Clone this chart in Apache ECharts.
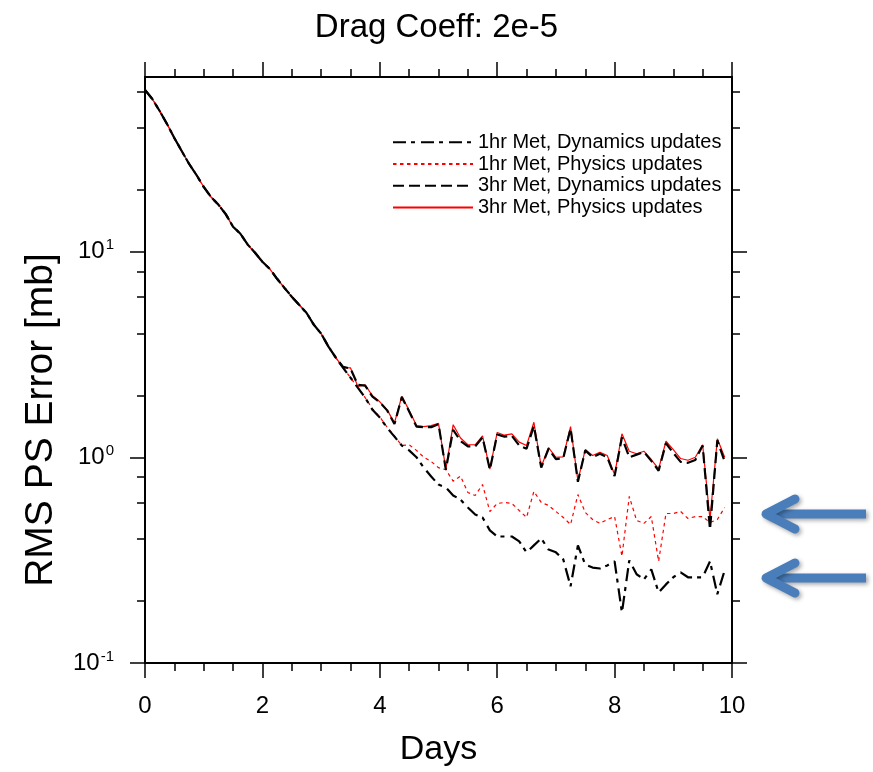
<!DOCTYPE html>
<html>
<head>
<meta charset="utf-8">
<script src="https://cdn.jsdelivr.net/npm/echarts@6/dist/echarts.min.js"></script>
<style>
  html, body { margin: 0; padding: 0; background: #fff; }
  #chart { width: 873px; height: 772px; }
</style>
</head>
<body>
<div id="chart"></div>
<script>
// ---- data (days, RMS PS error in mb) ----
const days = [0, 0.125, 0.25, 0.375, 0.5, 0.625, 0.75, 0.875, 1, 1.125, 1.25, 1.375, 1.5, 1.625, 1.75, 1.875,
  2, 2.125, 2.25, 2.375, 2.5, 2.625, 2.75, 2.875, 3, 3.125, 3.25, 3.375, 3.5, 3.625, 3.75, 3.875,
  4, 4.125, 4.25, 4.375, 4.5, 4.625, 4.75, 4.875, 5, 5.125, 5.25, 5.375, 5.5, 5.625, 5.75, 5.875,
  6, 6.125, 6.25, 6.375, 6.5, 6.625, 6.75, 6.875, 7, 7.125, 7.25, 7.375, 7.5, 7.625, 7.75, 7.875,
  8, 8.125, 8.25, 8.375, 8.5, 8.625, 8.75, 8.875, 9, 9.125, 9.25, 9.375, 9.5, 9.625, 9.75, 9.875];

const met1hrDynamics = [61.0, 55.1, 48.2, 41.7, 35.6, 30.8, 26.7, 23.6, 20.6, 18.4, 16.9, 15.2, 13.2, 12.2, 10.8, 9.86,
  8.91, 8.24, 7.37, 6.66, 6.03, 5.51, 5.04, 4.41, 3.99, 3.45, 3.05,
  2.72, 2.44, 2.18, 1.95, 1.70, 1.56, 1.39, 1.26, 1.14, 1.08, 1.00, 0.89, 0.806, 0.737, 0.713, 0.652,
  0.623, 0.570, 0.527, 0.510, 0.441, 0.412, 0.412, 0.412, 0.390, 0.345, 0.373, 0.403, 0.356, 0.345,
  0.319, 0.236, 0.373, 0.301, 0.291, 0.288, 0.298, 0.312, 0.176, 0.315, 0.270, 0.255, 0.285, 0.220,
  0.241, 0.261, 0.276, 0.261, 0.261, 0.261, 0.312, 0.216, 0.282];

const met1hrPhysics = [61.0, 55.1, 48.2, 41.7, 35.6, 30.8, 26.7, 23.6, 20.6, 18.4, 16.9, 15.2, 13.2, 12.2, 10.8, 9.86,
  8.91, 8.24, 7.37, 6.66, 6.03, 5.51, 5.04, 4.41, 3.99, 3.45, 3.05,
  2.72, 2.44, 2.18, 1.95, 1.72, 1.57, 1.40, 1.27, 1.14, 1.15, 1.08, 1.00, 0.953, 0.89, 0.87, 0.765,
  0.81, 0.674, 0.652, 0.737, 0.545, 0.596, 0.603, 0.596, 0.551, 0.510, 0.682, 0.603, 0.583, 0.545,
  0.510, 0.471, 0.659, 0.539, 0.498, 0.477, 0.498, 0.515, 0.330, 0.645, 0.493, 0.477, 0.515, 0.312,
  0.533, 0.533, 0.545, 0.504, 0.515, 0.515, 0.482, 0.498, 0.570];

const met3hrDynamics = [61.0, 55.1, 48.2, 41.7, 35.6, 30.8, 26.7, 23.6, 20.6, 18.4, 16.9, 15.2, 13.2, 12.2, 10.8, 9.86,
  8.91, 8.24, 7.37, 6.66, 6.03, 5.51, 5.04, 4.41, 3.99, 3.45, 3.05,
  2.75, 2.70, 2.25, 2.23, 1.97, 1.85, 1.69, 1.45, 1.96, 1.67, 1.41, 1.40, 1.40, 1.45, 0.87, 1.36,
  1.20, 1.13, 1.13, 1.25, 0.87, 1.29, 1.26, 1.27, 1.14, 1.10, 1.42, 0.89, 1.10, 0.98,
  0.99, 1.38, 0.76, 1.08, 1.00, 1.04, 1.00, 0.81, 1.25, 1.00, 1.03, 1.06, 0.96, 0.86,
  1.17, 1.05, 0.95, 0.94, 0.97, 1.14, 0.446, 1.21, 0.953];

const met3hrPhysics = [61.0, 55.1, 48.2, 41.7, 35.6, 30.8, 26.7, 23.6, 20.6, 18.4, 16.9, 15.2, 13.2, 12.2, 10.8, 9.86,
  8.91, 8.24, 7.37, 6.66, 6.03, 5.51, 5.04, 4.41, 3.99, 3.45, 3.05,
  2.725, 2.72, 2.21, 2.25, 1.99, 1.86, 1.70, 1.47, 1.98, 1.69, 1.425, 1.41, 1.425, 1.46, 0.878, 1.44,
  1.24, 1.15, 1.15, 1.27, 0.876, 1.32, 1.28, 1.30, 1.185, 1.14, 1.48, 0.90, 1.115, 1.00,
  1.004, 1.41, 0.77, 1.09, 1.019, 1.057, 1.02, 0.824, 1.30, 1.07, 1.04, 1.07, 0.975, 0.878,
  1.196, 1.09, 0.986, 0.967, 1.0, 1.15, 0.498, 1.23, 1.0];

const seriesNames = ['1hr Met, Dynamics updates', '1hr Met, Physics updates',
  '3hr Met, Dynamics updates', '3hr Met, Physics updates'];

const yMajorTicks = [0.1, 1, 10];
const yMinorTicks = [0.2, 0.4, 0.6, 0.8, 2, 4, 6, 8, 20, 40, 60];
const yMin = 0.1, yMax = 70.5;
const xMin = 0, xMax = 10, xInterval = 2;

// ---- chart ----
const FONT = 'Liberation Sans, Arial, Helvetica, sans-serif';
const chart = echarts.init(document.getElementById('chart'), null, { renderer: 'canvas' });

function pairs(vals) { return vals.map((v, i) => [days[i], v]); }

const axisLineStyle = { color: '#000', width: 2 };
const tickStyle = { color: '#000', width: 1.5 };

function xAxisDef(pos, labels) {
  return {
    type: 'value', position: pos, min: xMin, max: xMax, interval: xInterval,
    axisLine: { show: true, onZero: false, lineStyle: axisLineStyle },
    axisTick: { show: true, inside: false, length: 15, lineStyle: tickStyle },
    minorTick: { show: true, splitNumber: 4, length: 8, lineStyle: tickStyle },
    splitLine: { show: false }, minorSplitLine: { show: false },
    axisLabel: labels ? { show: true, fontSize: 24, color: '#000', fontFamily: FONT, margin: 31 } : { show: false }
  };
}

function yAxisDef(pos, ticks, len, showLine, labels) {
  const ax = {
    type: 'log', logBase: 10, position: pos, min: yMin, max: yMax,
    axisLine: { show: showLine, onZero: false, lineStyle: axisLineStyle },
    axisTick: { show: true, inside: false, length: len, customValues: ticks, lineStyle: tickStyle },
    minorTick: { show: false },
    splitLine: { show: false },
    axisLabel: { show: false }
  };
  if (labels) {
    ax.axisLabel = {
      show: true, customValues: ticks, margin: 31, color: '#000', fontFamily: FONT,
      formatter: function (v) {
        const e = Math.round(Math.log10(v));
        return '{b|10}{s|' + e + '}';
      },
      rich: {
        b: { fontSize: 24, fontFamily: FONT, color: '#000', lineHeight: 28 },
        s: { fontSize: 15, fontFamily: FONT, color: '#000', verticalAlign: 'top', lineHeight: 15, padding: [0, 0, 0, 1] }
      }
    };
    ax.name = 'RMS PS Error [mb]';
    ax.nameLocation = 'middle';
    ax.nameRotate = 90;
    ax.nameGap = 84;
    ax.nameTextStyle = { fontSize: 39, color: '#000', fontFamily: FONT, padding: [0, 100, 0, 0] };
  }
  return ax;
}

const xBottom = xAxisDef('bottom', true);
xBottom.name = 'Days';
xBottom.nameLocation = 'middle';
xBottom.nameGap = 70;
xBottom.nameTextStyle = { fontSize: 34, color: '#000', fontFamily: FONT };

const blue = '#4a7ebb';
function arrow(y) {
  return {
    type: 'group',
    children: [
      { type: 'polyline', shape: { points: [[866, y], [768, y]] },
        style: { stroke: blue, lineWidth: 9, lineCap: 'butt', shadowBlur: 4, shadowColor: 'rgba(0,0,0,0.35)', shadowOffsetX: 2, shadowOffsetY: 2 } },
      { type: 'polyline', shape: { points: [[795, y - 15], [766, y], [795, y + 15]] },
        style: { stroke: blue, lineWidth: 9, lineCap: 'round', lineJoin: 'round', fill: null, shadowBlur: 4, shadowColor: 'rgba(0,0,0,0.35)', shadowOffsetX: 2, shadowOffsetY: 2 } }
    ]
  };
}

const option = {
  backgroundColor: '#fff',
  animation: false,
  title: {
    text: 'Drag Coeff: 2e-5', left: 'center', top: 6,
    textStyle: { fontSize: 33, fontWeight: 'normal', color: '#000', fontFamily: FONT }
  },
  grid: { left: 145, right: 141, top: 77, bottom: 108, containLabel: false },
  legend: {
    orient: 'vertical', left: 392, top: 131.5, padding: 0, itemGap: 0, itemWidth: 80, itemHeight: 14,
    itemStyle: { opacity: 0, color: 'rgba(0,0,0,0)', borderWidth: 0 },
    textStyle: { fontSize: 20, color: '#000', fontFamily: FONT, lineHeight: 21.7 },
    data: seriesNames
  },
  xAxis: [xBottom, xAxisDef('top', false)],
  yAxis: [
    yAxisDef('left', yMajorTicks, 15, true, true),
    yAxisDef('left', yMinorTicks, 8, false, false),
    yAxisDef('right', yMajorTicks, 15, true, false),
    yAxisDef('right', yMinorTicks, 8, false, false)
  ],
  series: [
    { name: seriesNames[0], type: 'line', data: pairs(met1hrDynamics), symbol: 'none', z: 4,
      lineStyle: { color: '#000', width: 2.2, type: [13, 5, 4, 6] }, itemStyle: { color: '#000' } },
    { name: seriesNames[1], type: 'line', data: pairs(met1hrPhysics), symbol: 'none', z: 2,
      lineStyle: { color: '#ff0000', width: 1.2, type: [3.5, 3.5] }, itemStyle: { color: '#ff0000' } },
    { name: seriesNames[2], type: 'line', data: pairs(met3hrDynamics), symbol: 'none', z: 3,
      lineStyle: { color: '#000', width: 2.2, type: [11, 5] }, itemStyle: { color: '#000' } },
    { name: seriesNames[3], type: 'line', data: pairs(met3hrPhysics), symbol: 'none', z: 2,
      lineStyle: { color: '#ff0000', width: 1.2, type: 'solid' }, itemStyle: { color: '#ff0000' } }
  ],
  graphic: [arrow(514), arrow(578)]
};
chart.setOption(option);
</script>
</body>
</html>
